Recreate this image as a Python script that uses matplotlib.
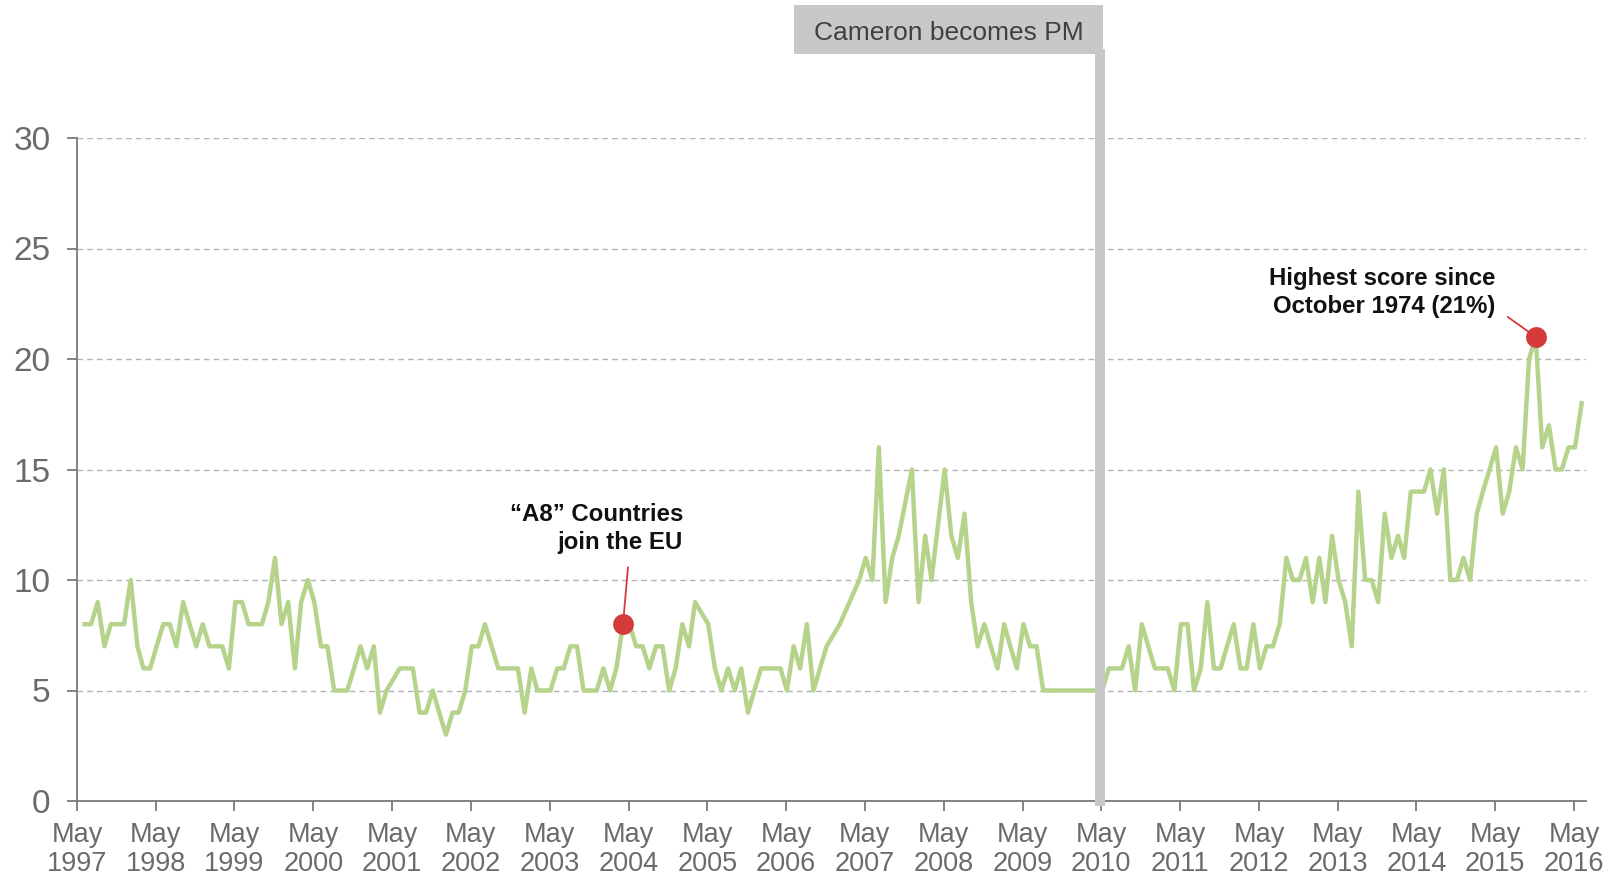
import numpy as np
import pandas as pd
import matplotlib
matplotlib.use('Agg')
import matplotlib.pyplot as plt
import matplotlib.dates as mdates
from matplotlib.patches import Rectangle

# Europe / EU named as an important issue (%), one reading a month from June 1997
# None = no reading that month (the line just joins the neighbours)
eu_share = [
    8, 8, 9, 7, 8, 8, 8, 10, 7, 6, 6, 7, 8, 8, 7, 9, 8, 7, 8, 7,
    7, 7, 6, 9, 9, 8, 8, 8, 9, 11, 8, 9, 6, 9, 10, 9, 7, 7,
    5, 5, 5, 6, 7, 6, 7, 4, 5, None, 6, 6, 6, 4, 4, 5, 4, 3, 4, 4,
    5, 7, 7, 8, 7, 6, 6, 6, 6, 4, 6, 5, 5, 5, 6, 6, 7, 7,
    5, 5, 5, 6, 5, 6, 8, 8, 7, 7, 6, 7, 7, 5, 6, 8, 7, 9, None, 8,
    6, 5, 6, 5, 6, 4, 5, 6, 6, 6, 6, 5, 7, 6, 8, 5, 6, 7,
    None, 8, None, None, 10, 11, 10, 16, 9, 11, 12, None, 15, 9, 12, 10, None, 15, 12, 11,
    13, 9, 7, 8, 7, 6, 8, 7, 6, 8, 7, 7, 5,
    5, 5, 5, 5, 5, 5, 5, 5, 5,
    6, 6, 6, 7, 5, 8, 7, 6, 6, 6, 5, 8, 8, 5, 6, 9, 6, 6, 7, 8,
    6, 6, 8, 6, 7, 7, 8, 11, 10, 10, 11, 9, 11, 9,
    12, 10, 9, 7, 14, 10, 10, 9, 13, 11, 12, 11, 14, 14, 14, 15, 13, 15, 10, 10,
    11, 10, 13, 14, 15, 16, 13, 14, 16, 15, 20, 21, 16, 17, 15, 15, 16, 16, 18,
]
first_month = '1997-06-01'
a8_index = 82                 # reading when the A8 countries joined
cameron_date = '2010-04-24'
tick_years = list(range(1997, 2017))
y_ticks = [0, 5, 10, 15, 20, 25, 30]

line_col = '#b5d38b'
dot_col = '#d63b3b'
grey_txt = '#6b6b6b'

plt.rcParams['font.family'] = ['Liberation Sans', 'DejaVu Sans']

vals = np.array([np.nan if v is None else v for v in eu_share], dtype=float)
dates = pd.date_range(first_month, periods=len(vals), freq='MS') + pd.Timedelta(days=4)
x = mdates.date2num(dates.to_pydatetime())
ok = ~np.isnan(vals)

W, H = 1616, 876
fig = plt.figure(figsize=(W / 100, H / 100), dpi=100)
ax = fig.add_axes([77 / W, 1 - 801 / H, (1586 - 77) / W, (801 - 138) / H])

ax.plot(x[ok], vals[ok], color=line_col, lw=3.2, solid_joinstyle='round', zorder=2)

# Cameron becomes PM: grey bar running up to a label box above the plot
ax.axvline(mdates.datestr2num(cameron_date), ymin=0, ymax=(801 - 54) / (801 - 138),
           color='#c8c8c8', lw=7.2, clip_on=False, zorder=3)
fig.patches.append(Rectangle((794 / W, 1 - 54 / H), 309 / W, 49 / H,
                             transform=fig.transFigure, facecolor='#c8c8c8',
                             edgecolor='none', zorder=0))
fig.text(949 / W, 1 - 33 / H, 'Cameron becomes PM', ha='center', va='center',
         fontsize=19, color='#404040')

# highlighted readings
hi = int(np.nanargmax(vals))
for i in (a8_index, hi):
    ax.plot(x[i], vals[i], 'o', color=dot_col, ms=15, mec='none', zorder=5)

ax.annotate('', xy=(x[a8_index], vals[a8_index]), xytext=(5, 57),
            textcoords='offset pixels',
            arrowprops=dict(arrowstyle='-', color=dot_col, lw=1.3, shrinkA=0, shrinkB=0))
ax.annotate('\u201cA8\u201d Countries\njoin the EU', xy=(x[a8_index], vals[a8_index]),
            xytext=(60, 70), textcoords='offset pixels', ha='right', va='bottom',
            multialignment='right', fontsize=17.3, fontweight='bold',
            linespacing=1.3, color='#111111')

ax.annotate('', xy=(x[hi], vals[hi]), xytext=(-28, 20), textcoords='offset pixels',
            arrowprops=dict(arrowstyle='-', color=dot_col, lw=1.3, shrinkA=0, shrinkB=0))
ax.annotate('Highest score since\nOctober 1974 (21%)', xy=(x[hi], vals[hi]),
            xytext=(-40, 19), textcoords='offset pixels', ha='right', va='bottom',
            multialignment='right', fontsize=17.3, fontweight='bold',
            linespacing=1.3, color='#111111')

# axes
ax.set_ylim(0, 30)
ax.set_yticks(y_ticks)
ax.set_xlim(mdates.datestr2num('1997-05-01'), mdates.datestr2num('2016-06-25'))
ax.set_xticks([mdates.datestr2num(f'{y}-05-01') for y in tick_years])
ax.set_xticklabels([f'May\n{y}' for y in tick_years], linespacing=1.15)
ax.grid(axis='y', color='#b3b3b3', linestyle=(0, (4, 3)), lw=1)
ax.set_axisbelow(True)
for s in ('top', 'right'):
    ax.spines[s].set_visible(False)
for s in ('left', 'bottom'):
    ax.spines[s].set_color('#7a7a7a')
    ax.spines[s].set_linewidth(1.3)
ax.tick_params(axis='both', colors='#7a7a7a', labelcolor=grey_txt,
               length=7, width=1.3, direction='out')
ax.tick_params(axis='y', pad=12, labelsize=24)
ax.tick_params(axis='x', pad=8, labelsize=19.5)

fig.savefig('out.png', dpi=100)
